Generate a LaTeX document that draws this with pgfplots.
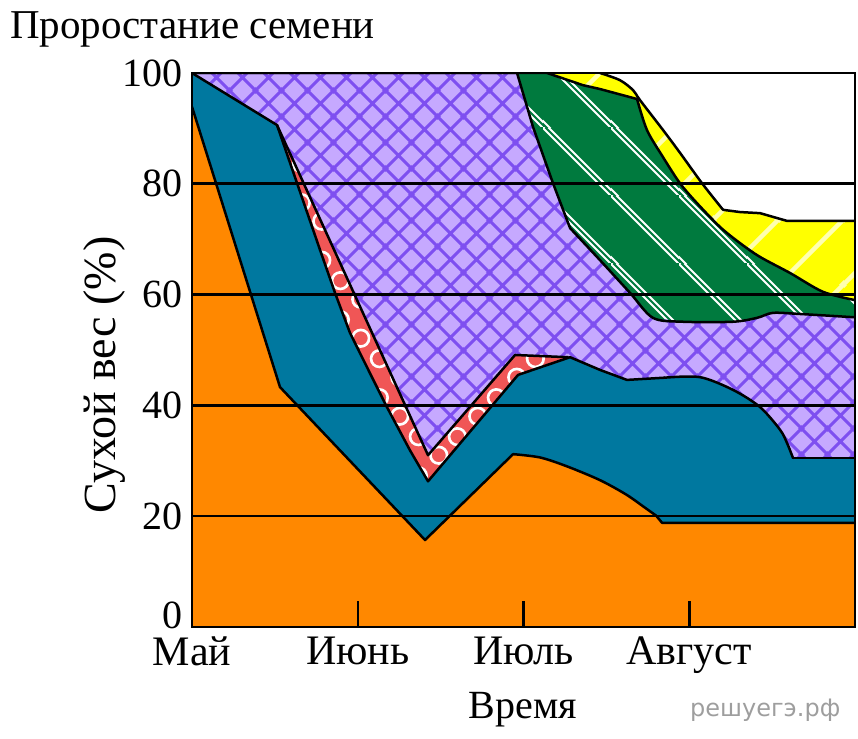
\documentclass[border=0pt]{standalone}
\usepackage{fontspec}
\setmainfont{Liberation Serif}
\newfontfamily\wmfont{DejaVu Sans}
\usepackage{pgfplots}
\pgfplotsset{compat=1.18}
\usepackage{pgfplotstable}
\usetikzlibrary{patterns}

\definecolor{cOrange}{HTML}{FF8800}
\definecolor{cBlue}{HTML}{00789F}
\definecolor{cRed}{HTML}{F05656}
\definecolor{cPurple}{HTML}{C6A9FF}
\definecolor{cPurpleLine}{HTML}{7E4FF0}
\definecolor{cGreen}{HTML}{007A3E}
\definecolor{cYellow}{HTML}{FFFF00}
\definecolor{cYellowLine}{HTML}{FFFFB0}

% purple crosshatch
\pgfdeclarepatternformonly{xhatch}{\pgfqpoint{0pt}{0pt}}{\pgfqpoint{25.5pt}{25.5pt}}{\pgfqpoint{25.5pt}{25.5pt}}{%
  \pgfsetlinewidth{3pt}%
  \pgfpathmoveto{\pgfqpoint{-3pt}{-3pt}}\pgfpathlineto{\pgfqpoint{28.5pt}{28.5pt}}%
  \pgfpathmoveto{\pgfqpoint{-3pt}{22.5pt}}\pgfpathlineto{\pgfqpoint{3pt}{28.5pt}}%
  \pgfpathmoveto{\pgfqpoint{22.5pt}{-3pt}}\pgfpathlineto{\pgfqpoint{28.5pt}{3pt}}%
  \pgfpathmoveto{\pgfqpoint{-3pt}{28.5pt}}\pgfpathlineto{\pgfqpoint{28.5pt}{-3pt}}%
  \pgfpathmoveto{\pgfqpoint{-3pt}{3pt}}\pgfpathlineto{\pgfqpoint{3pt}{-3pt}}%
  \pgfpathmoveto{\pgfqpoint{22.5pt}{28.5pt}}\pgfpathlineto{\pgfqpoint{28.5pt}{22.5pt}}%
  \pgfusepath{stroke}}
% red rings
\pgfdeclarepatternformonly{rings}{\pgfqpoint{0pt}{0pt}}{\pgfqpoint{39pt}{39pt}}{\pgfqpoint{39pt}{39pt}}{%
  \pgfsetlinewidth{2.7pt}%
  \pgfpathcircle{\pgfqpoint{10pt}{10pt}}{8.5pt}%
  \pgfpathcircle{\pgfqpoint{29pt}{29pt}}{8.5pt}%
  \pgfusepath{stroke}}
% green double stripes (\)
\pgfdeclarepatternformonly{gstripes}{\pgfqpoint{0pt}{0pt}}{\pgfqpoint{67.5pt}{67.5pt}}{\pgfqpoint{67.5pt}{67.5pt}}{%
  \pgfsetlinewidth{2pt}%
  \pgfpathmoveto{\pgfqpoint{-3pt}{70.5pt}}\pgfpathlineto{\pgfqpoint{70.5pt}{-3pt}}%
  \pgfpathmoveto{\pgfqpoint{-3pt}{76.5pt}}\pgfpathlineto{\pgfqpoint{76.5pt}{-3pt}}%
  \pgfpathmoveto{\pgfqpoint{-3pt}{9pt}}\pgfpathlineto{\pgfqpoint{9pt}{-3pt}}%
  \pgfusepath{stroke}}
% yellow stripes (/)
\pgfdeclarepatternformonly{ystripes}{\pgfqpoint{0pt}{0pt}}{\pgfqpoint{64.5pt}{64.5pt}}{\pgfqpoint{64.5pt}{64.5pt}}{%
  \pgfsetlinewidth{4.5pt}%
  \pgfpathmoveto{\pgfqpoint{-5pt}{-5pt}}\pgfpathlineto{\pgfqpoint{69.5pt}{69.5pt}}%
  \pgfpathmoveto{\pgfqpoint{-5pt}{59.5pt}}\pgfpathlineto{\pgfqpoint{10pt}{74.5pt}}%
  \pgfpathmoveto{\pgfqpoint{59.5pt}{-5pt}}\pgfpathlineto{\pgfqpoint{74.5pt}{10pt}}%
  \pgfusepath{stroke}}

% boundary pieces (x: months from May, y: dry weight %)
\pgfplotstableread{
x y
0 93.9
0.531 43.3
1.406 15.7
1.937 31.2
}\Oa
\pgfplotstableread{
x y
1.937 31.2
2.100 30.6
2.262 29.0
2.462 26.5
2.620 23.9
2.730 21.6
2.800 20.1
}\Ob
\pgfplotstableread{
x y
2.800 20.1
2.836 18.8
4 18.8
}\Oc
\pgfplotstableread{
x y
0 100
0.513 90.6
0.772 68.1
0.863 60.3
0.953 53.1
1.074 45.8
1.176 39.7
1.315 31.9
1.424 26.3
1.967 45.5
2.281 48.7
2.462 46.4
2.624 44.6
2.850 45.0
}\Ba
\pgfplotstableread{
x y
2.850 45.0
3.065 45.1
3.264 42.8
3.427 39.7
3.548 35.6
3.590 33.2
3.626 30.5
}\Bb
\pgfplotstableread{
x y
3.626 30.5
4 30.5
}\Bc
\pgfplotstableread{
x y
0.513 90.6
1.424 31.0
1.949 49.1
2.268 48.7
}\Ra
\pgfplotstableread{
x y
0 100
1.961 100
2.057 90.3
2.178 80.1
2.281 72.0
}\Pa
\pgfplotstableread{
x y
2.281 72.0
2.462 66.2
2.643 60.3
2.781 55.8
2.962 55.1
3.264 55.1
3.409 55.8
3.505 56.7
3.668 56.5
4 55.9
}\Pb
\pgfplotstableread{
x y
0 100
2.142 100
2.359 97.8
2.462 97.1
2.685 95.3
}\Ga
\pgfplotstableread{
x y
2.685 95.3
2.745 89.7
2.842 84.8
2.944 80.1
3.047 76.5
3.186 72.2
3.306 69.3
3.427 66.8
3.608 63.9
3.807 60.5
4 59.0
}\Gb
\pgfplotstableread{
x y
0 100
2.462 100
}\Ya
\pgfplotstableread{
x y
2.462 100
2.582 98.7
2.661 96.9
2.703 95.1
2.842 89.7
2.944 85.6
3.077 80.1
3.204 75.3
}\Yb
\pgfplotstableread{
x y
3.204 75.3
3.306 74.9
3.427 74.7
3.590 73.3
4 73.3
}\Yc

% whole boundaries for the pattern overlays (no seams)
\pgfplotstablevertcat{\Yall}{\Ya}\pgfplotstablevertcat{\Yall}{\Yb}\pgfplotstablevertcat{\Yall}{\Yc}
\pgfplotstablevertcat{\Gall}{\Ga}\pgfplotstablevertcat{\Gall}{\Gb}
\pgfplotstablevertcat{\Pall}{\Pa}\pgfplotstablevertcat{\Pall}{\Pb}

\newcommand{\solid}[3][]{\addplot[draw=#2, line width=0.8pt, fill=#2, #1] table {#3} \closedcycle;}
\newcommand{\pat}[4][]{\addplot[draw=none, pattern=#2, pattern color=#3, #1] table {#4} \closedcycle;}
\newcommand{\edge}[2][]{\addplot[black, line width=2.5pt, line join=round, line cap=round, #1] table {#2};}

\begin{document}
\begin{tikzpicture}
\useasboundingbox (-192pt,-111pt) rectangle (666pt,627pt);
\begin{axis}[
  at={(0pt,0pt)}, anchor=south west,
  width=663pt, height=554pt, scale only axis,
  xmin=0, xmax=4, ymin=0, ymax=100,
  axis on top,
  axis line style={line width=2.5pt, black},
  xtick={0,1,2,3}, xticklabels={Май,Июнь,Июль,Август},
  xtick pos=bottom,
  ytick={20,40,60,80,100},
  extra y ticks={0},
  extra y tick style={yticklabel style={yshift=12pt}},
  ymajorgrids, grid style={black, line width=2.6pt},
  tick align=inside,
  major tick length=26pt,
  ytick style={draw=none},
  xtick style={line width=2.5pt, black},
  /pgf/number format/assume math mode=true,
  xticklabel style={font=\fontsize{42}{50}\selectfont, inner sep=0pt, anchor=north, yshift=-10pt},
  yticklabel style={font=\fontsize{40}{48}\selectfont, inner sep=0pt, anchor=east, xshift=-9pt},
]
% yellow
\solid{cYellow}{\Ya} \solid[smooth, tension=0.5]{cYellow}{\Yb} \solid{cYellow}{\Yc}
\pat{ystripes}{cYellowLine}{\Yall}
% green
\solid{cGreen}{\Ga} \solid[smooth, tension=0.5]{cGreen}{\Gb}
\pat{gstripes}{white}{\Gall}
% purple
\solid{cPurple}{\Pa} \solid[smooth, tension=0.5]{cPurple}{\Pb}
\pat{xhatch}{cPurpleLine}{\Pall}
% red
\solid{cRed}{\Ra}
\pat{rings}{white}{\Ra}
% blue
\solid{cBlue}{\Ba} \solid[smooth, tension=0.5]{cBlue}{\Bb} \solid{cBlue}{\Bc}
% orange
\solid{cOrange}{\Oa} \solid[smooth, tension=0.5]{cOrange}{\Ob} \solid{cOrange}{\Oc}
% outlines
\edge{\Ya} \edge[smooth, tension=0.5]{\Yb} \edge{\Yc}
\edge{\Ga} \edge[smooth, tension=0.5]{\Gb}
\edge{\Pa} \edge[smooth, tension=0.5]{\Pb}
\edge{\Ra}
\edge{\Ba} \edge[smooth, tension=0.5]{\Bb} \edge{\Bc}
\edge{\Oa} \edge[smooth, tension=0.5]{\Ob} \edge{\Oc}
\end{axis}
\node[anchor=base west, inner sep=0pt, font=\fontsize{41}{49}\selectfont] at (-182pt,588pt) {Проростание семени};
\node[anchor=base, rotate=90, inner sep=0pt, font=\fontsize{46}{54}\selectfont] at (-76pt,252pt) {Сухой вес (\%)};
\node[anchor=base, inner sep=0pt, font=\fontsize{40}{48}\selectfont] at (331pt,-91pt) {Время};
\node[anchor=base west, inner sep=0pt, font=\wmfont\fontsize{24}{28}\selectfont, text=black!38] at (498pt,-89pt) {решуегэ.рф};
\end{tikzpicture}
\end{document}
